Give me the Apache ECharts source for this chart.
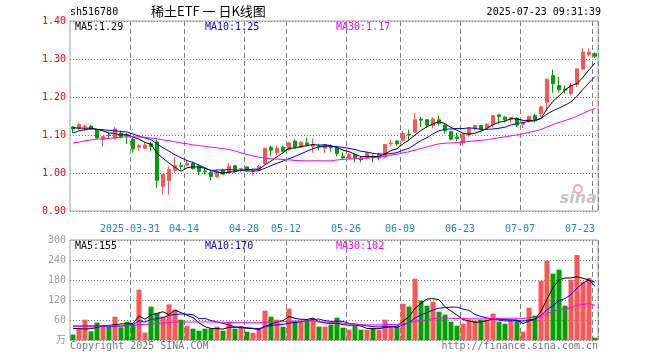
<!DOCTYPE html>
<html><head><meta charset="utf-8">
<script src="https://cdn.jsdelivr.net/npm/echarts@6/dist/echarts.min.js"></script>
<style>html,body{margin:0;padding:0;background:#fff}#c{width:660px;height:360px}</style>
</head><body><div id="c"></div>
<script>
const dates = ['2025-03-17','2025-03-18','2025-03-19','2025-03-20','2025-03-21','2025-03-24','2025-03-25','2025-03-26','2025-03-27','2025-03-28',
'2025-03-31','2025-04-01','2025-04-02','2025-04-03','2025-04-07','2025-04-08','2025-04-09','2025-04-10','2025-04-11','2025-04-14',
'2025-04-15','2025-04-16','2025-04-17','2025-04-18','2025-04-21','2025-04-22','2025-04-23','2025-04-24','2025-04-25','2025-04-28',
'2025-04-29','2025-04-30','2025-05-06','2025-05-07','2025-05-08','2025-05-09','2025-05-12','2025-05-13','2025-05-14','2025-05-15',
'2025-05-16','2025-05-19','2025-05-20','2025-05-21','2025-05-22','2025-05-23','2025-05-26','2025-05-27','2025-05-28','2025-05-29',
'2025-05-30','2025-06-03','2025-06-04','2025-06-05','2025-06-06','2025-06-09','2025-06-10','2025-06-11','2025-06-12','2025-06-13',
'2025-06-16','2025-06-17','2025-06-18','2025-06-19','2025-06-20','2025-06-23','2025-06-24','2025-06-25','2025-06-26','2025-06-27',
'2025-06-30','2025-07-01','2025-07-02','2025-07-03','2025-07-04','2025-07-07','2025-07-08','2025-07-09','2025-07-10','2025-07-11',
'2025-07-14','2025-07-15','2025-07-16','2025-07-17','2025-07-18','2025-07-21','2025-07-22','2025-07-23'];
const shownDates = ['2025-03-31','2025-04-14','2025-04-28','2025-05-12','2025-05-26','2025-06-09','2025-06-23','2025-07-07','2025-07-23'];

const openP = [1.121,1.118,1.122,1.123,1.114,1.089,1.100,1.092,1.105,1.100,
1.089,1.068,1.065,1.077,1.082,0.965,0.980,1.007,1.019,1.021,
1.025,1.018,1.005,1.002,0.990,1.007,1.000,1.019,1.010,1.016,
1.004,1.007,1.025,1.068,1.053,1.068,1.061,1.084,1.068,1.079,
1.070,1.070,1.065,1.070,1.066,1.044,1.039,1.049,1.039,1.039,
1.044,1.039,1.042,1.077,1.084,1.086,1.102,1.107,1.142,1.140,
1.125,1.140,1.126,1.109,1.095,1.079,1.100,1.118,1.125,1.119,
1.126,1.153,1.147,1.142,1.144,1.128,1.137,1.151,1.156,1.186,
1.256,1.230,1.221,1.209,1.233,1.274,1.311,1.314];
const closeP = [1.116,1.128,1.123,1.116,1.092,1.096,1.099,1.116,1.096,1.098,
1.063,1.072,1.074,1.070,0.981,0.996,1.009,1.019,1.018,1.026,
1.011,1.004,1.003,0.991,1.004,0.997,1.018,1.007,1.012,1.007,
1.006,1.018,1.065,1.060,1.065,1.057,1.079,1.067,1.081,1.075,
1.074,1.068,1.074,1.067,1.051,1.040,1.049,1.040,1.035,1.053,
1.040,1.049,1.075,1.079,1.077,1.104,1.100,1.140,1.139,1.126,
1.142,1.130,1.111,1.089,1.091,1.102,1.118,1.125,1.114,1.128,
1.151,1.149,1.140,1.146,1.126,1.132,1.149,1.139,1.174,1.247,
1.235,1.219,1.218,1.230,1.274,1.318,1.318,1.307];
const lowP = [1.105,1.114,1.109,1.114,1.090,1.070,1.091,1.088,1.091,1.077,
1.053,1.058,1.063,1.057,0.961,0.943,0.943,1.000,1.009,1.018,
1.009,0.994,0.996,0.981,0.987,0.995,0.998,1.000,1.002,1.004,
0.994,1.005,1.023,1.044,1.047,1.054,1.059,1.065,1.065,1.070,
1.053,1.060,1.053,1.056,1.044,1.037,1.037,1.028,1.028,1.037,
1.028,1.033,1.042,1.070,1.072,1.083,1.086,1.105,1.121,1.118,
1.118,1.125,1.104,1.086,1.084,1.072,1.095,1.112,1.112,1.114,
1.121,1.128,1.133,1.132,1.121,1.118,1.133,1.133,1.147,1.168,
1.211,1.212,1.209,1.205,1.226,1.270,1.307,1.302];
const highP = [1.123,1.131,1.128,1.126,1.116,1.097,1.105,1.121,1.111,1.105,
1.092,1.077,1.081,1.082,1.088,0.997,1.018,1.042,1.028,1.035,
1.030,1.023,1.014,1.005,1.007,1.011,1.026,1.021,1.014,1.018,
1.011,1.021,1.066,1.072,1.070,1.072,1.082,1.088,1.084,1.093,
1.091,1.077,1.077,1.075,1.070,1.054,1.053,1.051,1.044,1.054,
1.049,1.053,1.076,1.086,1.086,1.110,1.114,1.158,1.147,1.142,
1.147,1.151,1.130,1.111,1.105,1.103,1.121,1.126,1.126,1.132,
1.152,1.154,1.149,1.147,1.147,1.137,1.151,1.156,1.177,1.248,
1.272,1.253,1.230,1.237,1.275,1.328,1.328,1.318];
const volume = [16,34,61,26,52,42,39,70,38,55,
46,151,22,100,81,70,107,91,61,43,
34,28,34,34,40,28,55,34,40,25,
22,31,88,70,61,40,94,58,58,58,
61,40,40,46,67,37,31,43,31,31,
34,31,61,40,40,109,100,184,118,103,
115,85,76,55,43,49,61,58,61,61,
79,55,49,58,58,25,97,73,178,238,
199,211,103,181,255,175,186,7];

// moving-average values before enough history is in the window
const ma5Lead = [1.119,1.118,1.118,1.118];
const ma10Lead = [1.105,1.111,1.114,1.116,1.115,1.114,1.112,1.111,1.109];
const ma30Lead = [1.079,1.081,1.085,1.087,1.089,1.090,1.091,1.093,1.094,1.095,1.095,1.095,1.094,1.092,1.090,1.087,1.085,1.082,1.079,1.077,1.074,1.072,1.070,1.068,1.066,1.064,1.062,1.058,1.053];
const vma5Lead = [35,34,33,34];
const vma10Lead = [42,42,42,42,42,41,41,41,42];
const vma30Lead = [41,41,41,41,41,42,42,42,42,43,44,46,47,48,50,51,52,54,54,54,54,54,54,54,54,53,53,53,53];

const priceTicks = [0.9,1.0,1.1,1.2,1.3,1.4];
const volTicks = [0,60,120,180,240,300];

const RED = '#ff5555', GREEN = '#00a000';
const MONO = '"DejaVu Sans Mono", "Noto Sans CJK SC", monospace';

function ma(src, n, lead) {
  return src.map((v, i) => {
    if (i < n - 1) return lead[i];
    let s = 0;
    for (let k = i - n + 1; k <= i; k++) s += src[k];
    return +(s / n).toFixed(4);
  });
}
const labelIdx = new Set(shownDates.map(d => dates.indexOf(d)));
const lastIdx = dates.length - 1;
const candle = dates.map((d, i) => [openP[i], closeP[i], lowP[i], highP[i]]);
const volData = volume.map((v, i) => ({ value: v, itemStyle: { color: closeP[i] >= openP[i] ? RED : GREEN } }));

const dash = { color: '#808080', type: [5, 3], width: 1 };
const dot = { color: '#808080', type: [1, 2], width: 1 };

function xAxis(gi, showLabel) {
  return {
    type: 'category', gridIndex: gi, data: dates, boundaryGap: true,
    axisLine: { show: false }, axisTick: { show: false },
    axisLabel: {
      show: showLabel, interval: (i) => labelIdx.has(+i), margin: 13,
      formatter: (v) => {
        const t = v === shownDates[0] ? v : v.slice(5);
        return v === dates[lastIdx] ? '{b|' + t + '}' : '{a|' + t + '}';
      },
      rich: {
        a: { color: '#1a86d0', fontFamily: MONO, fontSize: 10, padding: [0, 6, 0, 0] },
        b: { color: '#1a86d0', fontFamily: MONO, fontSize: 10, padding: [0, 30, 0, 0] }
      }
    },
    splitLine: { show: true, interval: (i) => labelIdx.has(+i), lineStyle: dash }
  };
}

const chart = echarts.init(document.getElementById('c'), null, { renderer: 'canvas' });
chart.setOption({
  animation: false,
  backgroundColor: '#ffffff',
  grid: [
    { left: 70, top: 21, width: 528, height: 190, show: true, borderColor: '#a0a0a0', borderWidth: 1, backgroundColor: 'transparent' },
    { left: 70, top: 240, width: 528, height: 100, show: true, borderColor: '#a0a0a0', borderWidth: 1, backgroundColor: 'transparent' }
  ],
  xAxis: [xAxis(0, true), xAxis(1, false)],
  yAxis: [
    { type: 'value', gridIndex: 0, min: priceTicks[0], max: priceTicks[priceTicks.length - 1], interval: 0.1, scale: true,
      axisLine: { show: false }, axisTick: { show: false },
      axisLabel: { color: '#ff0000', fontFamily: MONO, fontSize: 10, margin: 4, formatter: v => v.toFixed(2) },
      splitLine: { show: true, lineStyle: dot } },
    { type: 'value', gridIndex: 1, min: volTicks[0], max: volTicks[volTicks.length - 1], interval: 60,
      axisLine: { show: false }, axisTick: { show: false },
      axisLabel: { color: '#999999', fontFamily: MONO, fontSize: 10, margin: 4, formatter: v => v === 0 ? '万' : String(v) },
      splitLine: { show: true, lineStyle: dot } }
  ],
  series: [
    { type: 'candlestick', xAxisIndex: 0, yAxisIndex: 0, data: candle, barWidth: 4,
      itemStyle: { color: RED, color0: GREEN, borderColor: RED, borderColor0: GREEN, borderWidth: 1 } },
    { type: 'line', xAxisIndex: 0, yAxisIndex: 0, data: ma(closeP, 5, ma5Lead), symbol: 'none', lineStyle: { color: '#000000', width: 1 } },
    { type: 'line', xAxisIndex: 0, yAxisIndex: 0, data: ma(closeP, 10, ma10Lead), symbol: 'none', lineStyle: { color: '#0000ff', width: 1 } },
    { type: 'line', xAxisIndex: 0, yAxisIndex: 0, data: ma(closeP, 30, ma30Lead), symbol: 'none', lineStyle: { color: '#ff00ff', width: 1 } },
    { type: 'bar', xAxisIndex: 1, yAxisIndex: 1, data: volData, barWidth: 5 },
    { type: 'line', xAxisIndex: 1, yAxisIndex: 1, data: ma(volume, 5, vma5Lead), symbol: 'none', lineStyle: { color: '#000000', width: 1 } },
    { type: 'line', xAxisIndex: 1, yAxisIndex: 1, data: ma(volume, 10, vma10Lead), symbol: 'none', lineStyle: { color: '#0000ff', width: 1 } },
    { type: 'line', xAxisIndex: 1, yAxisIndex: 1, data: ma(volume, 30, vma30Lead), symbol: 'none', lineStyle: { color: '#ff00ff', width: 1 } }
  ]
});
chart.setOption({
  graphic: [
    { type: 'text', left: 70, top: 7, style: { text: 'sh516780', fill: '#000', font: '10px ' + MONO } },
    { type: 'text', left: 151, top: 5, style: { text: '稀土ETF 一 日K线图', fill: '#000', font: '13px "Noto Sans CJK SC"' } },
    { type: 'text', right: 59, top: 7, style: { text: '2025-07-23 09:31:39', fill: '#000', font: '10px ' + MONO } },
    { type: 'text', left: 75, top: 22, style: { text: 'MA5:1.29', fill: '#000', font: '10px ' + MONO } },
    { type: 'text', left: 205, top: 22, style: { text: 'MA10:1.25', fill: '#0000ff', font: '10px ' + MONO } },
    { type: 'text', left: 336, top: 22, style: { text: 'MA30:1.17', fill: '#ff00ff', font: '10px ' + MONO } },
    { type: 'text', left: 75, top: 241, style: { text: 'MA5:155', fill: '#000', font: '10px ' + MONO } },
    { type: 'text', left: 205, top: 241, style: { text: 'MA10:170', fill: '#0000ff', font: '10px ' + MONO } },
    { type: 'text', left: 336, top: 241, style: { text: 'MA30:102', fill: '#ff00ff', font: '10px ' + MONO } },
    { type: 'text', left: 70, top: 341, style: { text: 'Copyright 2025 SINA.COM', fill: '#777', font: '10px ' + MONO } },
    { type: 'text', right: 62, top: 341, style: { text: 'http://finance.sina.com.cn', fill: '#777', font: '10px ' + MONO } },
    { type: 'circle', shape: { cx: 578, cy: 189, r: 4 }, style: { fill: 'none', stroke: '#e8b0b0', lineWidth: 2 }, silent: true },
    { type: 'text', right: 63, top: 191, style: { text: 'sina', fill: '#c4c4c4', font: 'italic bold 16px "DejaVu Sans"' } }
  ]
});
</script></body></html>
